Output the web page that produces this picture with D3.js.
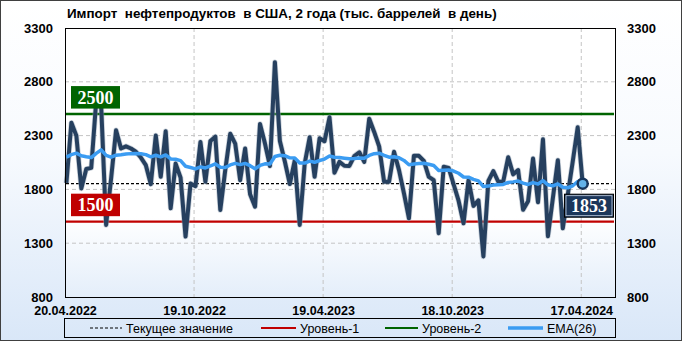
<!DOCTYPE html>
<html>
<head>
<meta charset="utf-8">
<script src="https://cdn.jsdelivr.net/npm/d3@7"></script>
<style>
  body { margin: 0; padding: 0; background: white; }
  svg { display: block; }
</style>
</head>
<body>
<div id="container"></div>
<script>
const width = 682;
const height = 341;

// weekly imports, thousand barrels per day
const values = [
  1860, 2420, 2300, 1809, 1990, 2000, 2620, 2580, 1470, 1900,
  2349, 2180, 2200, 2180, 2150, 2096, 2025, 1849, 2300, 1917,
  2340, 1624, 2040, 1910, 1362, 1855, 1830, 2241, 1871, 2250,
  2290, 1609, 1980, 2318, 2226, 1886, 2180, 1755, 1639, 2408,
  2226, 2018, 2982, 2250, 2060, 1850, 2070, 1470, 2040, 2284,
  1917, 2275, 2248, 2470, 1955, 2056, 2020, 2018, 2110, 2145,
  2056, 2457, 2334, 2200, 1871, 1871, 2149, 1979, 1763, 1531,
  2112, 2112, 2065, 1917, 1886, 1393, 2010, 2000, 1848, 1695,
  1485, 1886, 1647, 1698, 1177, 1878, 1970, 1871, 1874, 2099,
  1940, 1979, 1610, 1690, 2087, 1680, 2265, 1365, 1720, 2071,
  1439, 1750, 2060, 2377, 1853
];
const firstDate = "22.04.2022";
const xTickLabels = ["20.04.2022", "19.10.2022", "19.04.2023", "18.10.2023", "17.04.2024"];
const xDomain = ["20.04.2022", "05.06.2024"];
const yTicks = [800, 1300, 1800, 2300, 2800, 3300];
const level1 = 1500;
const level2 = 2500;
const emaPeriod = 26;
const emaSeed = 2100;

const title = "Импорт  нефтепродуктов  в США, 2 года (тыс. баррелей  в день)";
const legendNames = ["Текущее значение", "Уровень-1", "Уровень-2", "EMA(26)"];

const parseDate = d3.utcParse("%d.%m.%Y");
const start = parseDate(firstDate);
const dates = values.map((v, i) => d3.utcDay.offset(start, 7 * i));

// EMA(26) of the series
const alpha = 2 / (emaPeriod + 1);
const ema = [];
values.forEach((v, i) => {
  let prev = i == 0 ? emaSeed : ema[i - 1];
  ema.push(i == 0 ? emaSeed : prev + alpha * (v - prev));
});

const plot = { left: 65, right: 616, top: 28, bottom: 297 };

const x = d3.scaleUtc()
  .domain(xDomain.map(parseDate))
  .range([plot.left, plot.right]);

const y = d3.scaleLinear()
  .domain([yTicks[0], yTicks[yTicks.length - 1]])
  .range([plot.bottom, plot.top]);

const svg = d3.select("#container").append("svg")
  .attr("width", width)
  .attr("height", height);

const defs = svg.append("defs");
const bgGrad = defs.append("linearGradient").attr("id", "bg").attr("x1", 0).attr("y1", 0).attr("x2", 0).attr("y2", 1);
bgGrad.append("stop").attr("offset", "0%").attr("stop-color", "#ffffff");
bgGrad.append("stop").attr("offset", "45%").attr("stop-color", "#f7fafe");
bgGrad.append("stop").attr("offset", "100%").attr("stop-color", "#d9e7f8");

const plotGrad = defs.append("linearGradient").attr("id", "plotbg").attr("x1", 0).attr("y1", 0).attr("x2", 0).attr("y2", 1);
plotGrad.append("stop").attr("offset", "0%").attr("stop-color", "#ffffff");
plotGrad.append("stop").attr("offset", "70%").attr("stop-color", "#ffffff");
plotGrad.append("stop").attr("offset", "100%").attr("stop-color", "#e4eefa");

// background + frame
svg.append("rect")
  .attr("x", 0.5).attr("y", 0.5)
  .attr("width", width - 1).attr("height", height - 1)
  .attr("fill", "url(#bg)")
  .attr("stroke", "#404040");

svg.append("rect")
  .attr("x", plot.left).attr("y", plot.top)
  .attr("width", plot.right - plot.left).attr("height", plot.bottom - plot.top)
  .attr("fill", "url(#plotbg)");

// title
svg.append("text")
  .attr("x", 67).attr("y", 18)
  .attr("xml:space", "preserve")
  .style("white-space", "pre")
  .attr("font-family", "Liberation Sans, Arial, sans-serif")
  .attr("font-size", 13.4)
  .attr("font-weight", "bold")
  .attr("fill", "#000")
  .text(title);

// grid
svg.append("g").selectAll("line")
  .data(yTicks.slice(1, -1))
  .enter().append("line")
  .attr("x1", plot.left).attr("x2", plot.right)
  .attr("y1", d => y(d)).attr("y2", d => y(d))
  .attr("stroke", "#c4c4c4")
  .attr("stroke-dasharray", "4,3");

svg.append("g").selectAll("line")
  .data(xTickLabels.slice(1).map(parseDate))
  .enter().append("line")
  .attr("x1", d => x(d)).attr("x2", d => x(d))
  .attr("y1", plot.top).attr("y2", plot.bottom)
  .attr("stroke", "#c4c4c4")
  .attr("stroke-dasharray", "4,3");

// y axes, both sides
const yLeft = d3.axisLeft(y).tickValues(yTicks).tickSize(0).tickPadding(12).tickFormat(d3.format("d"));
const yRight = d3.axisRight(y).tickValues(yTicks).tickSize(0).tickPadding(11).tickFormat(d3.format("d"));
const xAxis = d3.axisBottom(x).tickValues(xTickLabels.map(parseDate)).tickSize(0).tickPadding(9)
  .tickFormat(d3.utcFormat("%d.%m.%Y"));

function styleAxis(g, size) {
  g.select(".domain").remove();
  g.selectAll("text")
    .attr("font-family", "Liberation Sans, Arial, sans-serif")
    .attr("font-size", size)
    .attr("font-weight", "bold")
    .attr("fill", "#000");
}

svg.append("g").attr("transform", "translate(" + plot.left + ",0)").call(yLeft).call(g => styleAxis(g, 13));
svg.append("g").attr("transform", "translate(" + plot.right + ",0)").call(yRight).call(g => styleAxis(g, 13));
svg.append("g").attr("transform", "translate(0," + plot.bottom + ")").call(xAxis).call(g => styleAxis(g, 12.5));

// level lines
const lx1 = plot.left + 1;
const lx2 = plot.right - 2;
svg.append("line")
  .attr("x1", lx1).attr("x2", lx2)
  .attr("y1", y(level2)).attr("y2", y(level2))
  .attr("stroke", "#006400").attr("stroke-width", 2.5);
svg.append("line")
  .attr("x1", lx1).attr("x2", lx2)
  .attr("y1", y(level1)).attr("y2", y(level1))
  .attr("stroke", "#c00000").attr("stroke-width", 2.2);

const last = values.length - 1;

// current value
svg.append("line")
  .attr("x1", lx1).attr("x2", lx2 - 2)
  .attr("y1", y(values[last])).attr("y2", y(values[last]))
  .attr("stroke", "#000").attr("stroke-width", 1.2)
  .attr("stroke-dasharray", "3,2");

// series
const line = d3.line()
  .x((d, i) => x(dates[i]))
  .y(d => y(d));

svg.append("path")
  .datum(values)
  .attr("d", line)
  .attr("fill", "none")
  .attr("stroke", "#9aa8b8")
  .attr("stroke-opacity", 0.5)
  .attr("stroke-width", 5.5)
  .attr("stroke-linejoin", "round");

svg.append("path")
  .datum(values)
  .attr("d", line)
  .attr("fill", "none")
  .attr("stroke", "#26405f")
  .attr("stroke-width", 4)
  .attr("stroke-linejoin", "round");

svg.append("path")
  .datum(ema)
  .attr("d", line)
  .attr("fill", "none")
  .attr("stroke", "#3b9cf2")
  .attr("stroke-width", 3.5)
  .attr("stroke-linejoin", "round");

// last point marker
svg.append("circle")
  .attr("cx", x(dates[last])).attr("cy", y(values[last]))
  .attr("r", 5)
  .attr("fill", "#63b3ea")
  .attr("stroke", "#17365d")
  .attr("stroke-width", 2.5);

// value boxes, sitting just above their level lines
function valueBox(val, bx, fill) {
  let g = svg.append("g");
  let bottom = y(val) - 5.5;
  g.append("rect")
    .attr("x", bx).attr("y", bottom - 22.5)
    .attr("width", 49).attr("height", 22.5)
    .attr("fill", fill);
  g.append("text")
    .attr("x", bx + 24.5).attr("y", bottom - 5)
    .attr("text-anchor", "middle")
    .attr("font-family", "Liberation Serif, Times New Roman, serif")
    .attr("font-size", 18)
    .attr("font-weight", "bold")
    .attr("fill", "#fff")
    .text(val);
}

valueBox(level2, 71, "#006400");
valueBox(level1, 71, "#c00000");

// the current value box sits just below the marker
(function() {
  let g = svg.append("g");
  let cy = y(values[last]) + 22;
  g.append("rect")
    .attr("x", 564.5).attr("y", cy - 11.5)
    .attr("width", 49).attr("height", 23)
    .attr("fill", "#1b365a")
    .attr("stroke", "#000")
    .attr("stroke-width", 1);
  g.append("rect")
    .attr("x", 566).attr("y", cy - 10)
    .attr("width", 46).attr("height", 20)
    .attr("fill", "none")
    .attr("stroke", "#c8d4e4")
    .attr("stroke-width", 0.8);
  g.append("text")
    .attr("x", 589).attr("y", cy + 6)
    .attr("text-anchor", "middle")
    .attr("font-family", "Liberation Serif, Times New Roman, serif")
    .attr("font-size", 18)
    .attr("font-weight", "bold")
    .attr("fill", "#fff")
    .text(values[last]);
})();

// plot frame
svg.append("rect")
  .attr("x", plot.left + 0.5).attr("y", plot.top + 0.5)
  .attr("width", plot.right - plot.left - 1).attr("height", plot.bottom - plot.top)
  .attr("fill", "none")
  .attr("stroke", "#000");

// legend
const legend = svg.append("g");
legend.append("rect")
  .attr("x", 64.5).attr("y", 318.5)
  .attr("width", 551).attr("height", 19)
  .attr("fill", "none")
  .attr("stroke", "#000");

const legendItems = [
  { name: legendNames[0], x1: 90, x2: 122, color: "#000", w: 1.2, dash: "3,2" },
  { name: legendNames[1], x1: 261, x2: 296, color: "#c00000", w: 2.2, dash: null },
  { name: legendNames[2], x1: 385, x2: 418, color: "#006400", w: 2.2, dash: null },
  { name: legendNames[3], x1: 508, x2: 543, color: "#3b9cf2", w: 3.5, dash: null }
];

const li = legend.selectAll(".item").data(legendItems).enter().append("g").attr("class", "item");
li.append("line")
  .attr("x1", d => d.x1).attr("x2", d => d.x2)
  .attr("y1", 328).attr("y2", 328)
  .attr("stroke", d => d.color)
  .attr("stroke-width", d => d.w)
  .attr("stroke-dasharray", d => d.dash);
li.append("text")
  .attr("x", d => d.x2 + 4).attr("y", 332.5)
  .attr("font-family", "Liberation Sans, Arial, sans-serif")
  .attr("font-size", 12.5)
  .attr("fill", "#000")
  .text(d => d.name);
</script>
</body>
</html>
